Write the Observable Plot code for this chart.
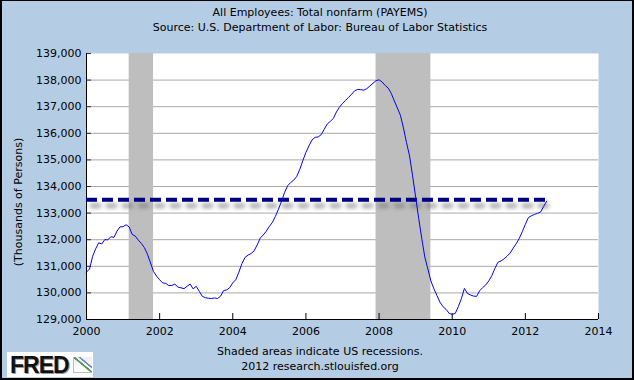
<!DOCTYPE html>
<html>
<head>
<meta charset="utf-8">
<script src="https://cdn.jsdelivr.net/npm/d3@7"></script>
<script src="https://cdn.jsdelivr.net/npm/@observablehq/plot@0.6"></script>
<style>
  html, body { margin: 0; padding: 0; background: #b4cde4; }
  #wrap { position: relative; width: 634px; height: 380px; background: #b4cde4; overflow: hidden;
          font-family: "DejaVu Sans", Verdana, sans-serif; color: #000; }
  #wrap:after { content: ""; position: absolute; left: 0; top: 0; right: 0; bottom: 0;
          border: 1px solid #000; border-left-width: 2px; border-right-width: 2px; border-bottom-width: 2px;
          pointer-events: none; }
  #chart { position: absolute; left: 0; top: 0; }
  .t { position: absolute; left: 0; width: 640px; text-align: center; font-size: 11px; line-height: 14px; white-space: nowrap; }
  #ylabel { position: absolute; left: 17.5px; top: 202px; font-size: 11px; line-height: 13px; white-space: nowrap;
            transform: translate(-50%, -50%) rotate(-90deg); }
  #logo { position: absolute; left: 7px; top: 352px; width: 86px; height: 25px; background: #fff; }
  #logo .w { position: absolute; left: 3px; top: 1px; font-family: "Liberation Sans", Arial, sans-serif; font-weight: bold;
             font-size: 23px; line-height: 24px; letter-spacing: -1px; color: #111; text-shadow: 1px 1px 0 #999; }
  #logo .ic { position: absolute; left: 66px; top: 5px; width: 18px; height: 15px;
              background:
                linear-gradient(to top right, transparent 44%, #5a9a5a 46%, #5a9a5a 52%, transparent 54%),
                linear-gradient(to top right, transparent 60%, #6b8fc7 62%, #6b8fc7 67%, transparent 69%),
                linear-gradient(#eee, #fff);
              border-left: 1px solid #bbb; border-bottom: 1px solid #bbb; }
</style>
</head>
<body>
<div id="wrap">
  <div class="t" style="top:6px">All Employees: Total nonfarm (PAYEMS)</div>
  <div class="t" style="top:21px">Source: U.S. Department of Labor: Bureau of Labor Statistics</div>
  <div id="chart"></div>
  <div id="ylabel">(Thousands of Persons)</div>
  <div class="t" style="top:345px">Shaded areas indicate US recessions.</div>
  <div class="t" style="top:360px">2012 research.stlouisfed.org</div>
  <div id="logo"><span class="w">FRED</span><span class="ic"></span></div>
</div>
<script>
// Monthly PAYEMS (thousands of persons), Jan 2000 – Aug 2012
const startYear = 2000;
const payems = [
  130781,130898,131371,131658,131882,131839,132003,131993,132115,132086,132322,132481, // 2000
  132489,132561,132477,132197,132136,131985,131859,131701,131453,131128,130803,130630, // 2001
  130493,130375,130359,130275,130280,130330,130220,130190,130160,130250,130330,130150, // 2002
  130250,130060,129870,129820,129800,129790,129810,129790,129880,130090,130110,130200, // 2003
  130380,130500,130780,131100,131330,131420,131480,131580,131800,132060,132180,132320, // 2004
  132500,132650,132880,133150,133450,133780,134030,134150,134240,134380,134650,134980, // 2005
  135280,135530,135750,135850,135860,135950,136150,136350,136450,136560,136800,136980, // 2006
  137120,137240,137350,137470,137600,137650,137640,137620,137680,137780,137880,137980, // 2007
  138010,137930,137800,137700,137500,137220,136950,136680,136200,135650,135150,134400, // 2008
  133600,132800,132050,131350,130900,130450,130150,129900,129650,129480,129380,129230, // 2009
  129190,129230,129480,129780,130170,129980,129920,129880,129870,130080,130200,130300, // 2010
  130450,130650,130920,131150,131200,131280,131380,131500,131680,131850,132050,132300, // 2011
  132580,132830,132900,132950,132990,133040,133250,133450                              // 2012
];
// US recessions (decimal years)
const recessionStart = [2001 + 2/12, 2007 + 11/12];
const recessionEnd   = [2001 + 10/12, 2009 + 5/12];
// Horizontal reference line
const refValue = 133500;
const refStart = 2000;
const refEnd = 2012.67;
// Axes
const xDomain = [2000, 2014];
const yDomain = [129000, 139000];
const xTicks = [2000, 2002, 2004, 2006, 2008, 2010, 2012, 2014];
const yTicks = [129000, 130000, 131000, 132000, 133000, 134000, 135000, 136000, 137000, 138000, 139000];

const series = payems.map((v, i) => ({t: startYear + i / 12, v}));
const recessions = recessionStart.map((s, i) => ({start: s, end: recessionEnd[i]}));
const ref = [{y: refValue, x1: refStart, x2: refEnd}];
const grid = yTicks.filter(d => d > yDomain[0] && d < yDomain[1]);

const chart = Plot.plot({
  width: 634,
  height: 380,
  marginLeft: 86,
  marginRight: 36,
  marginTop: 53,
  marginBottom: 61,
  style: {background: "transparent", fontFamily: "'DejaVu Sans', Verdana, sans-serif", fontSize: "11px", color: "#000"},
  x: {domain: xDomain, ticks: xTicks, tickFormat: d => String(d), tickSize: 0, tickPadding: 8, label: null},
  y: {domain: yDomain, ticks: yTicks, tickFormat: d3.format(","), tickSize: 0, tickPadding: 5, label: null},
  marks: [
    Plot.frame({fill: "white", stroke: null}),
    Plot.ruleY(grid, {stroke: "#a9a9a9", strokeWidth: 1}),
    Plot.rect(recessions, {x1: "start", x2: "end", fill: "#bebebe"}),
    Plot.tickY(yTicks, {y: d => d, stroke: "#333", insetRight: 507}),
    Plot.tickX(xTicks, {x: d => d, stroke: "#000", insetTop: 260}),
    Plot.ruleX([xDomain[0]], {stroke: "#000"}),
    Plot.ruleY([yDomain[0]], {stroke: "#000"}),
    Plot.ruleY(ref, {y: "y", x1: "x1", x2: "x2", stroke: "#6e6e6e", strokeOpacity: 0.7, strokeWidth: 4,
                     strokeDasharray: "11,5", dx: 4, dy: 6}),
    Plot.ruleY(ref, {y: "y", x1: "x1", x2: "x2", stroke: "#000080", strokeWidth: 4, strokeDasharray: "11,5"}),
    Plot.line(series, {x: "t", y: "v", stroke: "#0000ff", strokeWidth: 1})
  ]
});
chart.querySelectorAll('[stroke="#6e6e6e"]').forEach(el => { el.style.filter = "blur(2px)"; });
document.getElementById("chart").appendChild(chart);
</script>
</body>
</html>
